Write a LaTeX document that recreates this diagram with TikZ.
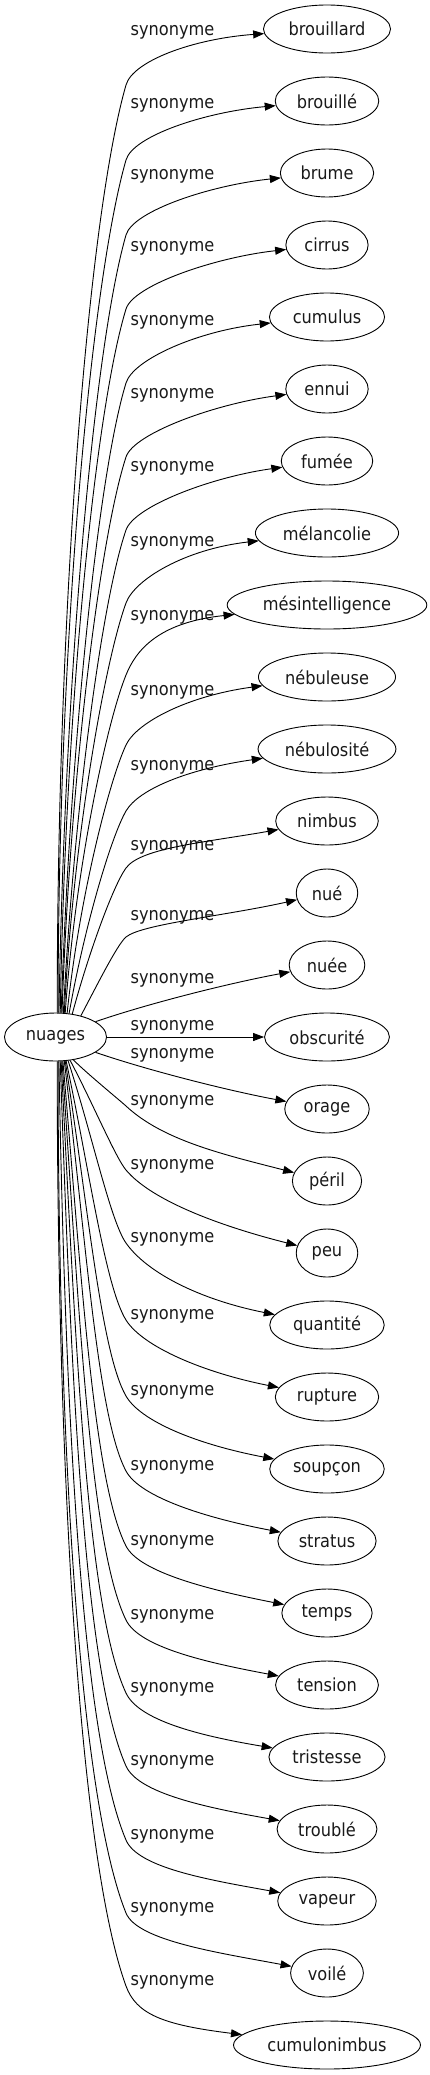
\documentclass[tikz,border=0pt]{standalone}
\usepackage{fontspec}
\setmainfont{DejaVu Sans}[FakeStretch=0.9]
\usetikzlibrary{arrows.meta,calc,shapes.geometric}
\begin{document}
\begin{tikzpicture}[x=1pt,y=-1pt,font=\fontsize{18}{21}\selectfont,
  word/.style={draw,ellipse,line width=0.9pt,minimum height=48pt,inner xsep=6.5pt,text=black!90},
  lab/.style={inner sep=0pt,text=black!90},
  conn/.style={draw,line width=0.9pt,-{Triangle[length=11pt,width=8pt]}}]
\useasboundingbox (0,0) rectangle (429,2075);
\node[word] (nuages) at (55.5,1037) {nuages};
\foreach \w [count=\k from 0] in {brouillard,brouillé,brume,cirrus,cumulus,ennui,fumée,mélancolie,mésintelligence,nébuleuse,nébulosité,nimbus,nué,nuée,obscurité,orage,péril,peu,quantité,rupture,soupçon,stratus,temps,tension,tristesse,troublé,vapeur,voilé,cumulonimbus}
  \node[word] (n\k) at (327,{29+72*\k}) {\w};
\foreach \k/\y in {0/32,1/105,2/176,3/248,4/322,5/395,6/468,7/543,8/617,9/692,10/767,11/847,12/917,13/980,14/1027,15/1055,16/1102,17/1166,18/1239,19/1316,20/1392,21/1467,22/1542,23/1616,24/1689,25/1762,26/1836,27/1909,28/1982}
  \node[lab] (l\k) at (172.5,\y) {synonyme};
% upper edges
\foreach \pI/\pA/\pO/\pB/\pDl/\pL/\pG in {0/86/56/16/0/25/8,1/84/59/16/0/25/9,2/82/62/16/1/25/10,3/79/64/17/1/25/10,4/77/66/17/2/25/11,5/75/68/18/2/25/12,6/72/69/19/3/25/13,7/70/70/20/3/25/13,8/68/70/22/4/25/14,9/64/68/25/6/25/15,10/60/62/30/10/25/16,11/54/47/36/15/25/17,12/40/44/50/28/20/18}{
  \pgfmathsetmacro\myWy{29+72*\pI+\pO}
  \pgfmathsetmacro\myD{1013-\myWy}
  \draw[conn] (nuages.\pA) .. controls ($(nuages.\pA)+({0.43*\myD*sin(\pDl)},{-0.43*\myD*cos(\pDl)})$) and ({126-0.15*\myD*sin(\pB)},{\myWy+0.15*\myD*cos(\pB)}) .. (126,\myWy) .. controls ({126+\pL*sin(\pB)},{\myWy-\pL*cos(\pB)}) and ($(n\pI.west)+(-70,{70*tan(\pG)})$) .. (n\pI);
}
% middle edges
\draw[conn] (nuages.21) .. controls (150,1003) and (230,983) .. (n13);
\draw[conn] (nuages) -- (n14);
\draw[conn] (nuages.339) .. controls (150,1071) and (230,1091) .. (n15);
% lower edges
\foreach \pI/\pA/\pW/\pB/\pDl/\pL/\pG in {16/308/1106/47/45/50/21,17/302/1170/40/28/42/20,18/298/1243/35/18/36/20,19/294/1320/32/12/32/19,20/292/1396/30/9/30/19,21/290/1471/28/7/30/18,22/287/1546/27/5/30/18,23/285/1620/26/4/30/18,24/283/1693/25/3/30/17,25/281/1766/24/2/30/17,26/278/1840/23/1/30/17,27/276/1913/22/0/30/16,28/274/1986/20/0/30/16}{
  \pgfmathsetmacro\myD{\pW-1061}
  \draw[conn] (nuages.\pA) .. controls ($(nuages.\pA)+({0.43*\myD*sin(\pDl)},{0.43*\myD*cos(\pDl)})$) and ({126-0.15*\myD*sin(\pB)},{\pW-0.15*\myD*cos(\pB)}) .. (126,\pW) .. controls ({126+\pL*sin(\pB)},{\pW+\pL*cos(\pB)}) and ($(n\pI.west)+(-70,{-70*tan(\pG)})$) .. (n\pI);
}
\end{tikzpicture}
\end{document}
